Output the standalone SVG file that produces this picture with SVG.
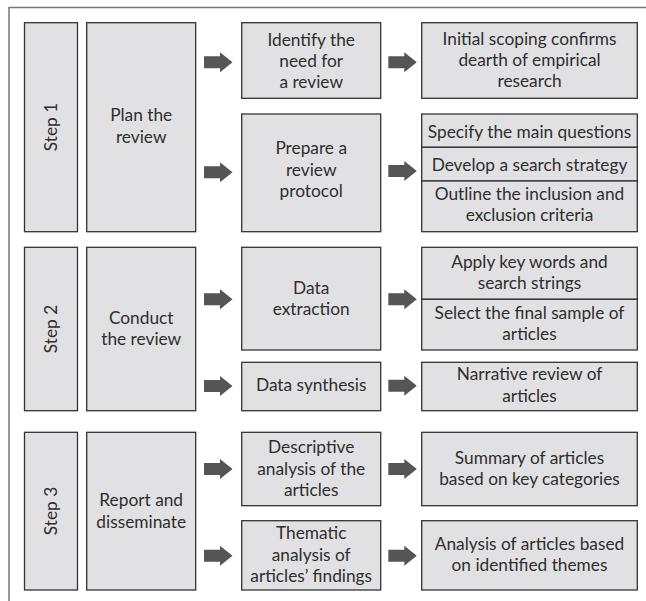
<svg xmlns="http://www.w3.org/2000/svg" width="646" height="601" viewBox="0 0 646 601">
<defs>
<style>
.b{fill:#e1e1e3;stroke:#333;stroke-width:1.3}
.t{font-family:Lato,"Open Sans",sans-serif;font-size:17.3px;fill:#2e2e2e;text-anchor:middle}
.a{fill:#555}
.f{fill:none;stroke:#777;stroke-width:1.5}
</style>
<path id="arr" class="a" d="M0,-6 H16 V-10 L28.5,0 L16,10 V6 H0 Z"/>
</defs>
<rect width="646" height="601" fill="#fff"/>
<path class="f" d="M9,601 V7.5 H646"/>

<g id="step1"><rect class="b" x="24.5" y="22.7" width="53" height="209"/><text class="t" transform="translate(56.5,127) rotate(-90)">Step 1</text></g>
<g id="plan"><rect class="b" x="86.7" y="22.7" width="109" height="209"/><text class="t" x="141.2" y="121">Plan the</text><text class="t" x="141.2" y="143">review</text></g>
<g id="identify"><rect class="b" x="241.7" y="22.7" width="139" height="75.6"/><text class="t" x="311.2" y="45.5">Identify the</text><text class="t" x="311.2" y="66.5">need for</text><text class="t" x="311.2" y="87.5">a review</text></g>
<g id="initial"><rect class="b" x="421.7" y="22.7" width="215.6" height="75.6"/><text class="t" x="529.5" y="44.5">Initial scoping confirms</text><text class="t" x="529.5" y="65.5">dearth of empirical</text><text class="t" x="529.5" y="87">research</text></g>
<g id="prepare"><rect class="b" x="241.7" y="114" width="139" height="117.7"/><text class="t" x="311.2" y="154">Prepare a</text><text class="t" x="311.2" y="175.5">review</text><text class="t" x="311.2" y="197">protocol</text></g>
<g id="specify"><rect class="b" x="421.7" y="114" width="215.6" height="33.3"/><text class="t" x="529.5" y="137.5">Specify the main questions</text></g>
<g id="develop"><rect class="b" x="421.7" y="147.3" width="215.6" height="33.7"/><text class="t" x="529.5" y="171">Develop a search strategy</text></g>
<g id="outline"><rect class="b" x="421.7" y="181" width="215.6" height="50.7"/><text class="t" x="529.5" y="200">Outline the inclusion and</text><text class="t" x="529.5" y="221">exclusion criteria</text></g>

<g id="step2"><rect class="b" x="24.5" y="247.3" width="53" height="163.4"/><text class="t" transform="translate(56.5,329) rotate(-90)">Step 2</text></g>
<g id="conduct"><rect class="b" x="86.7" y="247.3" width="109" height="163.4"/><text class="t" x="141.2" y="323.5">Conduct</text><text class="t" x="141.2" y="345">the review</text></g>
<g id="extraction"><rect class="b" x="241.7" y="247.3" width="139" height="102.7"/><text class="t" x="311.2" y="293.5">Data</text><text class="t" x="311.2" y="314.5">extraction</text></g>
<g id="apply"><rect class="b" x="421.7" y="247.3" width="215.6" height="52"/><text class="t" x="529.5" y="268">Apply key words and</text><text class="t" x="529.5" y="289">search strings</text></g>
<g id="select"><rect class="b" x="421.7" y="299.3" width="215.6" height="50.7"/><text class="t" x="529.5" y="319">Select the final sample of</text><text class="t" x="529.5" y="340">articles</text></g>
<g id="synthesis"><rect class="b" x="241.7" y="362.3" width="139" height="48.4"/><text class="t" x="311.2" y="391">Data synthesis</text></g>
<g id="narrative"><rect class="b" x="421.7" y="362.3" width="215.6" height="48.4"/><text class="t" x="529.5" y="380">Narrative review of</text><text class="t" x="529.5" y="401.5">articles</text></g>

<g id="step3"><rect class="b" x="24.5" y="432.3" width="53" height="157.7"/><text class="t" transform="translate(56.5,511) rotate(-90)">Step 3</text></g>
<g id="report"><rect class="b" x="86.7" y="432.3" width="109" height="157.7"/><text class="t" x="141.2" y="505.5">Report and</text><text class="t" x="141.2" y="527.5">disseminate</text></g>
<g id="descriptive"><rect class="b" x="241.7" y="432.3" width="139" height="73.4"/><text class="t" x="311.2" y="453">Descriptive</text><text class="t" x="311.2" y="474.5">analysis of the</text><text class="t" x="311.2" y="496">articles</text></g>
<g id="summary"><rect class="b" x="421.7" y="432.3" width="215.6" height="73.4"/><text class="t" x="529.5" y="463.5">Summary of articles</text><text class="t" x="529.5" y="485">based on key categories</text></g>
<g id="thematic"><rect class="b" x="241.7" y="520.7" width="139" height="69.3"/><text class="t" x="311.2" y="539">Thematic</text><text class="t" x="311.2" y="560.5">analysis of</text><text class="t" x="311.2" y="582">articles’ findings</text></g>
<g id="analysis"><rect class="b" x="421.7" y="520.7" width="215.6" height="69.3"/><text class="t" x="529.5" y="550">Analysis of articles based</text><text class="t" x="529.5" y="571">on identified themes</text></g>

<g id="connectors">
<use href="#arr" x="204" y="62.3"/>
<use href="#arr" x="388.3" y="62.3"/>
<use href="#arr" x="204" y="172.3"/>
<use href="#arr" x="388.3" y="171"/>
<use href="#arr" x="204" y="299.3"/>
<use href="#arr" x="388.3" y="299.3"/>
<use href="#arr" x="204" y="386"/>
<use href="#arr" x="388.3" y="385.7"/>
<use href="#arr" x="204" y="469"/>
<use href="#arr" x="388.3" y="469"/>
<use href="#arr" x="204" y="555.7"/>
<use href="#arr" x="388.3" y="555.7"/>
</g>
</svg>
